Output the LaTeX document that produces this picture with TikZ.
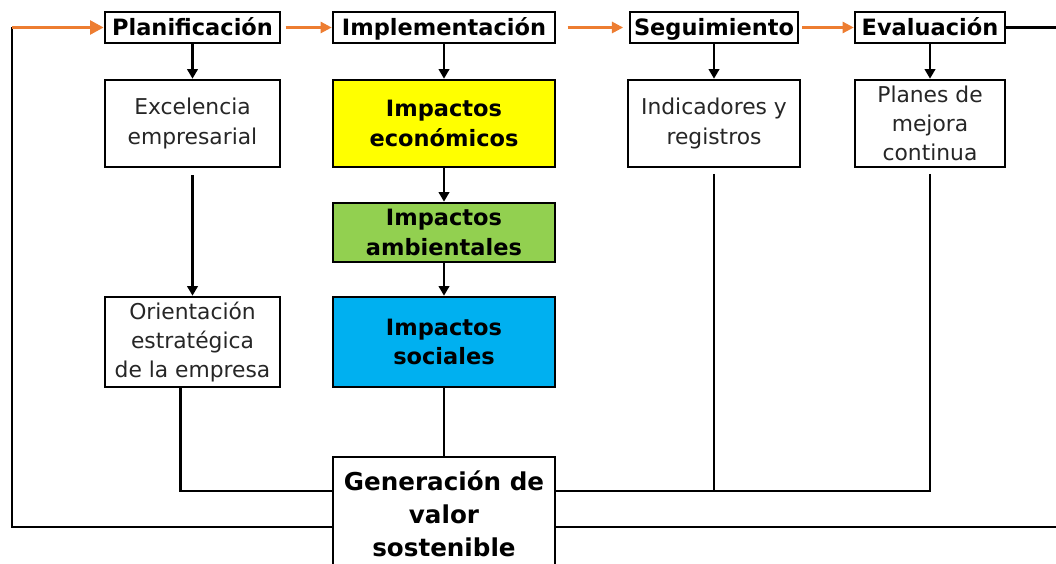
\documentclass[tikz,border=0pt]{standalone}
\usepackage{fontspec}
\setmainfont{DejaVu Sans}
\usetikzlibrary{arrows.meta,positioning}
\definecolor{floworange}{RGB}{237,125,49}
\definecolor{ecoyellow}{RGB}{255,255,0}
\definecolor{envgreen}{RGB}{146,208,80}
\definecolor{socblue}{RGB}{0,176,240}
\tikzset{
    % phase boxes along the top
    phase/.style={
        draw=black, fill=white, line width=1.8pt, inner sep=0pt,
        minimum height=0.775cm, text height=14.7pt, text depth=3pt,
        font=\fontsize{16}{19}\selectfont\bfseries
    },
    % white boxes with plain text
    plainbox/.style={
        draw=black, fill=white, line width=1.8pt, inner sep=0pt,
        align=center, minimum height=2.175cm, text=black!85,
        font=\fontsize{15.5}{20.8}\selectfont
    },
    % coloured impact boxes
    impactbox/.style={
        draw=black, line width=1.8pt, inner sep=0pt, align=center,
        minimum width=5.55cm, font=\fontsize{16}{20.8}\selectfont\bfseries
    },
}
\tikzset{
    link/.style={line width=1.8pt, black},
    downarc/.style={-{Triangle[length=2.4mm,width=2.6mm]}, line width=1.8pt, black},
    phasearc/.style={-{Triangle[length=2.8mm,width=2.8mm]}, line width=1.7pt, floworange},
    looparc/.style={-{Triangle[length=3.4mm,width=3.4mm]}, line width=2.4pt, floworange},
}
\begin{document}
\begin{tikzpicture}[x=0.025cm, y=-0.025cm]
  \useasboundingbox (0,0) rectangle (1056,564);

  % phases along the top
  \node[phase, minimum width=4.375cm] (plan) at (192.5,27.5) {Planificación};
  \node[phase, minimum width=5.55cm]  (impl) at (444,27.5)   {Implementación};
  \node[phase, minimum width=4.2cm]   (seg)  at (714,27.5)   {Seguimiento};
  \node[phase, minimum width=3.75cm]  (eval) at (930,27.5)   {Evaluación};

  % second row
  \node[plainbox, minimum width=4.375cm] (exc) at (192.5,123.5) {Excelencia\\empresarial};
  \node[impactbox, fill=ecoyellow, minimum height=2.175cm] (eco) at (444,123.5) {Impactos\\económicos};
  \node[plainbox, minimum width=4.3cm]   (ind) at (714,123.5) {Indicadores y\\registros};
  \node[plainbox, minimum width=3.75cm]  (mej) at (930,123.5) {Planes de\\mejora\\continua};

  % impacts column and strategy box
  \node[impactbox, fill=envgreen, minimum height=1.475cm] (amb) at (444,232.5) {Impactos\\ambientales};
  \node[impactbox, fill=socblue, minimum height=2.25cm] (soc) at (444,342) {Impactos\\sociales};
  \node[plainbox, minimum width=4.375cm, minimum height=2.25cm] (ori) at (192.5,342)
       {Orientación\\estratégica\\de la empresa};

  % result box at the bottom
  \node[impactbox, fill=white, minimum height=2.85cm,
        font=\fontsize{17.5}{23.5}\selectfont\bfseries] (gen) at (444,514)
       {Generación de\\valor\\sostenible};

  \coordinate (loopL) at (12,527);
  \coordinate (loopR) at (1085,527);
  \coordinate (join)  at (0,491);

  % orange flow between phases
  \draw[phasearc, shorten <=3pt] (plan.east) -- (impl.west);
  \draw[phasearc, shorten <=8pt, shorten >=4pt] (impl.east) -- (seg.west);
  \draw[phasearc, shorten <=2pt] (seg.east) -- (eval.west);

  % arrows down
  \draw[downarc] (plan) -- (exc);
  \draw[downarc] (impl) -- (eco);
  \draw[downarc] (seg) -- (ind);
  \draw[downarc] (eval) -- (mej);
  \draw[downarc] (eco) -- (amb);
  \draw[downarc] (amb) -- (soc);
  \draw[downarc, shorten <=5pt] (exc) -- (ori);

  % lines into the result
  \draw[link] (soc) -- (gen);
  \draw[link] ([xshift=-3mm]ori.south) |- (gen.west |- join);
  \draw[link, shorten <=4pt] (ind.south) |- (gen.east |- join);
  \draw[link, shorten <=4pt] (mej.south) |- (gen.east |- join);

  % the big loop back to planning
  \draw[link] (gen.west |- loopL) -- (loopL) -- (loopL |- plan.west);
  \draw[looparc] (loopL |- plan.west) -- (plan.west);
  \draw[link] (eval.east) -| (loopR) -- (gen.east |- loopR);
\end{tikzpicture}
\end{document}
